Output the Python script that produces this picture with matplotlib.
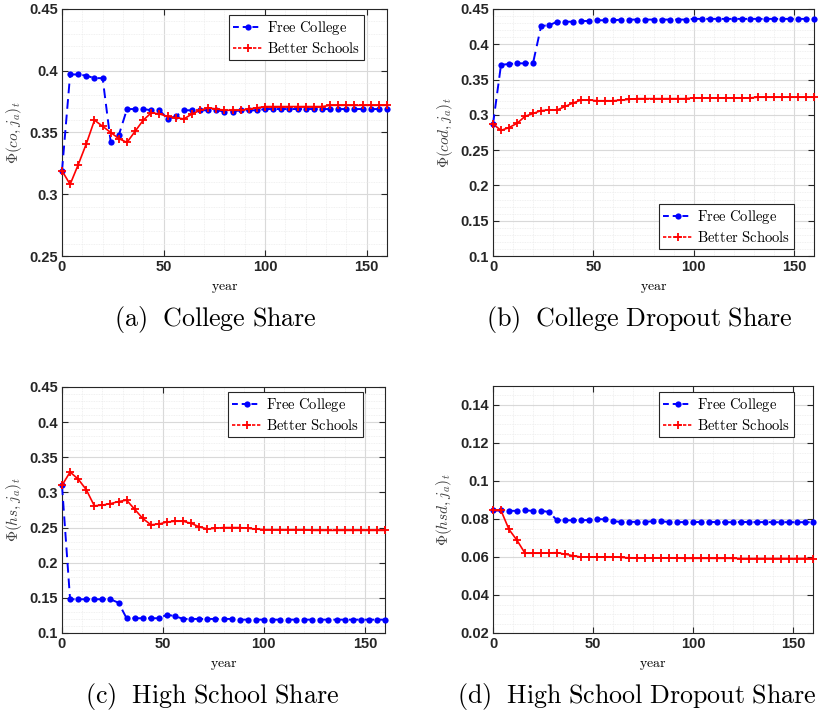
import matplotlib
matplotlib.use("Agg")
import matplotlib.pyplot as plt
from matplotlib.lines import Line2D
from matplotlib.ticker import MultipleLocator, FuncFormatter
import numpy as np

plt.rcParams['mathtext.fontset'] = 'cm'

years = list(range(0, 161, 4))

co_free = [0.319, 0.397, 0.397, 0.396, 0.394, 0.394, 0.342, 0.348, 0.369, 0.369,
           0.369, 0.368, 0.368, 0.361, 0.363, 0.368, 0.368, 0.368, 0.368, 0.368,
           0.367, 0.367, 0.368, 0.368, 0.368, 0.369, 0.369, 0.369, 0.369, 0.369,
           0.369, 0.369, 0.369, 0.369, 0.369, 0.369, 0.369, 0.369, 0.369, 0.369, 0.369]
co_better = [0.319, 0.308, 0.324, 0.341, 0.360, 0.355, 0.350, 0.345, 0.342, 0.351,
             0.360, 0.366, 0.365, 0.363, 0.362, 0.361, 0.365, 0.368, 0.370, 0.369,
             0.368, 0.368, 0.368, 0.369, 0.370, 0.371, 0.371, 0.371, 0.371, 0.371,
             0.371, 0.371, 0.371, 0.372, 0.372, 0.372, 0.372, 0.372, 0.372, 0.372, 0.372]

cod_free = [0.287, 0.371, 0.372, 0.373, 0.373, 0.374, 0.426, 0.427, 0.432, 0.432,
            0.432, 0.433, 0.433, 0.434, 0.434, 0.434, 0.435, 0.435, 0.435, 0.435,
            0.435, 0.435, 0.435, 0.435, 0.435, 0.436, 0.436, 0.436, 0.436, 0.436,
            0.436, 0.436, 0.436, 0.436, 0.436, 0.436, 0.436, 0.436, 0.436, 0.436, 0.436]
cod_better = [0.287, 0.278, 0.282, 0.288, 0.298, 0.302, 0.306, 0.307, 0.307, 0.312,
              0.317, 0.321, 0.321, 0.320, 0.320, 0.320, 0.321, 0.322, 0.323, 0.323,
              0.323, 0.323, 0.323, 0.323, 0.323, 0.324, 0.324, 0.324, 0.324, 0.324,
              0.324, 0.324, 0.324, 0.325, 0.325, 0.325, 0.325, 0.325, 0.325, 0.325, 0.325]

hs_free = [0.310, 0.148, 0.148, 0.148, 0.148, 0.148, 0.148, 0.143, 0.121, 0.121,
           0.121, 0.121, 0.121, 0.126, 0.124, 0.120, 0.120, 0.120, 0.120, 0.120,
           0.120, 0.120, 0.119, 0.119, 0.119, 0.119, 0.119, 0.119, 0.119, 0.119,
           0.119, 0.119, 0.119, 0.119, 0.119, 0.119, 0.119, 0.119, 0.119, 0.119, 0.119]
hs_better = [0.310, 0.329, 0.319, 0.304, 0.281, 0.282, 0.284, 0.287, 0.289, 0.276,
             0.263, 0.254, 0.255, 0.258, 0.259, 0.259, 0.256, 0.251, 0.248, 0.249,
             0.250, 0.250, 0.250, 0.249, 0.248, 0.247, 0.247, 0.247, 0.247, 0.247,
             0.247, 0.246, 0.246, 0.246, 0.246, 0.246, 0.246, 0.246, 0.246, 0.246, 0.246]

hsd_free = [0.0845, 0.0845, 0.0843, 0.0843, 0.0845, 0.0843, 0.0843, 0.0837, 0.0793, 0.0793,
            0.0793, 0.0793, 0.0795, 0.0800, 0.0798, 0.0788, 0.0785, 0.0785, 0.0785, 0.0785,
            0.0788, 0.0787, 0.0785, 0.0783, 0.0784, 0.0784, 0.0784, 0.0784, 0.0784, 0.0783,
            0.0783, 0.0784, 0.0784, 0.0783, 0.0784, 0.0783, 0.0783, 0.0783, 0.0783, 0.0783, 0.0783]
hsd_better = [0.0845, 0.0845, 0.0745, 0.0688, 0.0620, 0.0620, 0.0620, 0.0621, 0.0623, 0.0615,
              0.0607, 0.0600, 0.0600, 0.0600, 0.0601, 0.0601, 0.0598, 0.0596, 0.0595, 0.0595,
              0.0595, 0.0595, 0.0595, 0.0594, 0.0593, 0.0593, 0.0593, 0.0593, 0.0593, 0.0593,
              0.0593, 0.0592, 0.0592, 0.0592, 0.0592, 0.0592, 0.0592, 0.0592, 0.0592, 0.0592, 0.0592]

series_labels = ['Free College', 'Better Schools']
ylabels = [r'$\Phi(co, j_a)_t$', r'$\Phi(cod, j_a)_t$', r'$\Phi(hs, j_a)_t$', r'$\Phi(hsd, j_a)_t$']
captions = [r'$\mathrm{(a)\ \ College\ Share}$', r'$\mathrm{(b)\ \ College\ Dropout\ Share}$',
            r'$\mathrm{(c)\ \ High\ School\ Share}$', r'$\mathrm{(d)\ \ High\ School\ Dropout\ Share}$']

W, H = 824, 715
fig = plt.figure(figsize=(W / 100, H / 100), dpi=100)

# pixel boxes: left, right, top, bottom
boxes = [(62, 387, 9, 256), (493, 814, 9, 256), (62, 385, 387, 633), (493, 813, 386, 633)]
ylims = [(0.25, 0.45), (0.1, 0.45), (0.1, 0.45), (0.02, 0.15)]
ymaj = [0.05, 0.05, 0.05, 0.02]
ymin = [0.01, 0.01, 0.01, 0.005]
# legend anchor (right, top) / (right, bottom) in pixels
leg_anchor = [('upper right', 364, 15), ('lower right', 794, 249),
              ('upper right', 363, 392), ('upper right', 794, 392)]
cap_pos = [(215, 320), (639, 320), (212, 696), (637, 696)]
data = [(co_free, co_better), (cod_free, cod_better), (hs_free, hs_better), (hsd_free, hsd_better)]

fmt = FuncFormatter(lambda v, p: ('%g' % round(v, 4)))

for i in range(4):
    l, r, t, b = boxes[i]
    ax = fig.add_axes([l / W, 1 - b / H, (r - l) / W, (b - t) / H])
    fr, bt = data[i]
    ax.plot(years, fr, color=(0, 0, 1), linestyle=(0, (5, 3)), linewidth=1.4,
            marker='o', markersize=4.5, markeredgewidth=0, zorder=3, clip_on=False)
    ax.plot(years, bt, color=(1, 0, 0), linestyle='-', linewidth=1.2,
            marker='+', markersize=5.5, markeredgewidth=1.3, zorder=3, clip_on=False)
    ax.set_xlim(0, 160)
    ax.set_ylim(*ylims[i])
    ax.xaxis.set_major_locator(MultipleLocator(50))
    ax.xaxis.set_minor_locator(MultipleLocator(10))
    ax.yaxis.set_major_locator(MultipleLocator(ymaj[i]))
    ax.yaxis.set_minor_locator(MultipleLocator(ymin[i]))
    ax.yaxis.set_major_formatter(fmt)
    ax.grid(True, which='major', color='#d9d9d9', linewidth=0.8)
    ax.grid(True, which='minor', color='#ececec', linewidth=0.6, linestyle=(0, (1, 1)))
    ax.set_axisbelow(True)
    ax.tick_params(which='both', direction='in', top=True, right=True, color='#262626')
    ax.tick_params(which='major', length=4, labelsize=10.5, pad=3)
    ax.tick_params(which='minor', length=0)
    for lab in ax.get_xticklabels() + ax.get_yticklabels():
        lab.set_fontweight('bold')
        lab.set_fontfamily('Liberation Sans')
        lab.set_color('#262626')
    for s in ax.spines.values():
        s.set_color('#262626')
        s.set_linewidth(0.8)
    ax.set_xlabel(r'$\mathrm{year}$', fontsize=10, labelpad=5)
    ax.set_ylabel(ylabels[i], fontsize=11, color='#404040', labelpad=4)
    handles = [Line2D([], [], color=(0, 0, 1), linestyle=(0, (3, 2)), linewidth=1.4,
                      marker='o', markersize=4.5, markeredgewidth=0),
               Line2D([], [], color=(1, 0, 0), linestyle=(0, (2, 1)), linewidth=1.2,
                      marker='+', markersize=5.5, markeredgewidth=1.3)]
    loc, ax_px, ay_px = leg_anchor[i]
    leg = ax.legend(handles, series_labels, loc=loc,
                    bbox_to_anchor=(ax_px / W, 1 - ay_px / H),
                    bbox_transform=fig.transFigure, fancybox=False,
                    edgecolor='#262626', framealpha=1, handlelength=2.0,
                    handletextpad=0.3, borderpad=0.3, labelspacing=0.25,
                    prop={'size': 10.5}, borderaxespad=0)
    leg.get_frame().set_linewidth(0.8)
    for txt in leg.get_texts():
        txt.set_text(r'$\mathrm{' + txt.get_text().replace(' ', r'\ ') + '}$')
    cx, cy = cap_pos[i]
    fig.text(cx / W, 1 - cy / H, captions[i], fontsize=18.7, ha='center', va='center')

fig.savefig('out.png', dpi=100)
